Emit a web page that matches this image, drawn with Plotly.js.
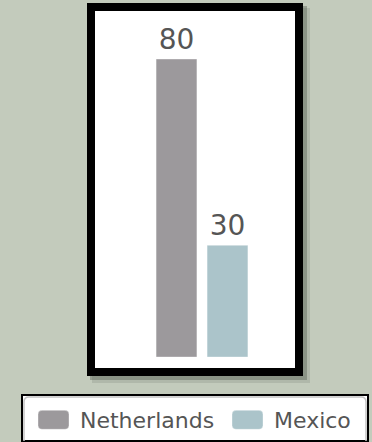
<!DOCTYPE html>
<html>
<head>
<meta charset="utf-8">
<script src="https://cdn.plot.ly/plotly-3.0.1.min.js"></script>
<style>html,body{margin:0;padding:0;background:#c3cbbc;}#chart{width:372px;height:442px;}</style>
</head>
<body>
<div id="chart"></div>
<script>
const countries = ['Netherlands', 'Mexico'];
const values = [80, 30];
const colors = ['#9c999c', '#abc4ca'];

const W = 372, H = 442;
const L = 21, R = 4, T = 11, B = 74;
const pw = W - L - R, ph = H - T - B;
const px = v => (v - L) / pw;
const py = v => (H - B - v) / ph;

const traces = countries.map((c, i) => ({
  type: 'bar',
  name: c,
  x: [c],
  y: [values[i]],
  width: 0.8,
  legend: i === 0 ? 'legend' : 'legend2',
  marker: {color: colors[i], line: {color: 'rgba(255,255,255,0.35)', width: 1}},
  text: [String(values[i])],
  textposition: 'outside',
  constraintext: 'none',
  cliponaxis: false,
  textfont: {family: 'DejaVu Sans', size: 28, color: '#555'},
  hoverinfo: 'none'
}));

const shadow = 'rgba(70,78,66,0.35)';
const soft = 'rgba(70,78,66,0.15)';
const rect = (x0, x1, y0, y1, fill, line) => ({type: 'rect', xref: 'paper', yref: 'paper', layer: 'below',
  x0: px(x0), x1: px(x1), y0: py(y1), y1: py(y0), fillcolor: fill, line: line || {width: 0}});
const P = (x, y) => `${px(x)},${py(y)}`;
const rr = 5;
const innerPath = `M${P(24, 441)}L${P(24, 397 + rr)}Q${P(24, 397)} ${P(24 + rr, 397)}L${P(366 - rr, 397)}Q${P(366, 397)} ${P(366, 397 + rr)}L${P(366, 441)}`;

const legendBase = {orientation: 'h', xanchor: 'left', yanchor: 'top', y: py(399),
  bgcolor: 'rgba(0,0,0,0)', borderwidth: 0, itemwidth: 43, indentation: 5,
  font: {family: 'DejaVu Sans', size: 22, color: '#555'}};

const layout = {
  width: W, height: H,
  paper_bgcolor: '#c3cbbc',
  plot_bgcolor: 'rgba(0,0,0,0)',
  margin: {l: L, r: R, t: T, b: B, pad: 0, autoexpand: false},
  barmode: 'overlay',
  showlegend: true,
  xaxis: {type: 'category', range: [-3.049, 3.755], visible: false, fixedrange: true},
  yaxis: {range: [-2.95, 92.9], visible: false, fixedrange: true},
  legend: Object.assign({}, legendBase, {x: px(22)}),
  legend2: Object.assign({}, legendBase, {x: px(216)}),
  shapes: [
    rect(92, 310, 8, 383, soft),
    rect(90, 307, 6, 380, shadow),
    rect(91, 299, 7, 372, '#ffffff', {color: '#000', width: 8}),
    rect(22, 368, 395, 441, '#ffffff', {color: '#000', width: 2}),
    {type: 'path', xref: 'paper', yref: 'paper', layer: 'below', path: innerPath, line: {color: '#c4c4c4', width: 1.5}}
  ]
};

Plotly.newPlot('chart', traces, layout, {displayModeBar: false, staticPlot: true}).then(gd => {
  const w = 31, h = 19, r = 4;
  const x0 = -w / 2, y0 = -h / 2;
  const d = `M${x0 + r},${y0}H${x0 + w - r}A${r},${r} 0 0 1 ${x0 + w},${y0 + r}V${y0 + h - r}A${r},${r} 0 0 1 ${x0 + w - r},${y0 + h}H${x0 + r}A${r},${r} 0 0 1 ${x0},${y0 + h - r}V${y0 + r}A${r},${r} 0 0 1 ${x0 + r},${y0}Z`;
  gd.querySelectorAll('.legendpoints path').forEach(p => p.setAttribute('d', d));
});
</script>
</body>
</html>
